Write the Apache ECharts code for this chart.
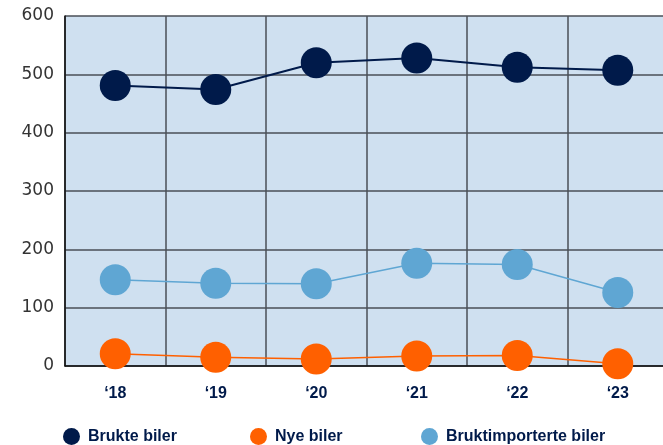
<!DOCTYPE html>
<html>
<head>
<meta charset="utf-8">
<script src="https://cdn.jsdelivr.net/npm/echarts@6/dist/echarts.min.js"></script>
<style>
  html, body { margin: 0; padding: 0; background: #ffffff; }
  #chart { width: 663px; height: 445px; }
</style>
</head>
<body>
<div id="chart"></div>
<script>
// Years shown on the category axis
const years = ['\u201818', '\u201819', '\u201820', '\u201821', '\u201822', '\u201823'];

// Series values (antall i tusen)
const brukteBiler = [481, 474, 520, 528, 512, 507];
const nyeBiler = [21, 15, 12, 17, 18, 4];
const bruktimporterteBiler = [148, 142, 141, 176, 174, 126];

// Value axis ticks
const yTicks = [0, 100, 200, 300, 400, 500, 600];

const NAVY = '#001a4a';
const ORANGE = '#ff6000';
const LIGHTBLUE = '#5fa6d3';

const chart = echarts.init(document.getElementById('chart'), null, { renderer: 'canvas' });

function lineSeries(name, data, color, width) {
  return {
    name: name,
    type: 'line',
    data: data,
    symbol: 'circle',
    symbolSize: 31,
    clip: false,
    itemStyle: { color: color, borderWidth: 0 },
    lineStyle: { color: color, width: width },
    emphasis: { disabled: true },
    animation: false
  };
}

function legendAt(name, left) {
  return {
    data: [name],
    left: left,
    top: 428,
    padding: 0,
    icon: 'circle',
    itemWidth: 17,
    itemHeight: 17,
    selectedMode: false,
    textStyle: {
      color: NAVY,
      fontFamily: 'Liberation Sans',
      fontWeight: 'bold',
      fontSize: 16,
      padding: [0, 0, 0, 3]
    }
  };
}

chart.setOption({
  animation: false,
  grid: {
    left: 65,
    width: 603,
    top: 16,
    bottom: 79,
    outerBoundsMode: 'none',
    show: true,
    backgroundColor: '#cfe0f0',
    borderWidth: 0
  },
  legend: [
    legendAt('Brukte biler', 63),
    legendAt('Nye biler', 250),
    legendAt('Bruktimporterte biler', 421)
  ],
  xAxis: {
    type: 'category',
    data: years,
    boundaryGap: true,
    axisLine: { show: true, lineStyle: { color: '#111111', width: 1.5 } },
    axisTick: { show: false },
    axisLabel: {
      color: NAVY,
      fontFamily: 'Liberation Sans',
      fontWeight: 'bold',
      fontSize: 16,
      margin: 20
    },
    splitLine: { show: true, lineStyle: { color: '#4a4f57', width: 1.5 } }
  },
  yAxis: {
    type: 'value',
    min: yTicks[0],
    max: yTicks[yTicks.length - 1],
    interval: 100,
    axisLine: { show: true, lineStyle: { color: '#111111', width: 1.5 } },
    axisTick: { show: false },
    axisLabel: {
      color: '#333333',
      fontFamily: 'DejaVu Sans',
      fontSize: 17,
      margin: 11,
      formatter: function (v) { return yTicks.indexOf(v) >= 0 ? String(v) : ''; }
    },
    splitLine: { show: true, lineStyle: { color: '#4a4f57', width: 1.5 } }
  },
  series: [
    lineSeries('Brukte biler', brukteBiler, NAVY, 2),
    lineSeries('Nye biler', nyeBiler, ORANGE, 1.5),
    lineSeries('Bruktimporterte biler', bruktimporterteBiler, LIGHTBLUE, 1.5)
  ]
});
</script>
</body>
</html>
